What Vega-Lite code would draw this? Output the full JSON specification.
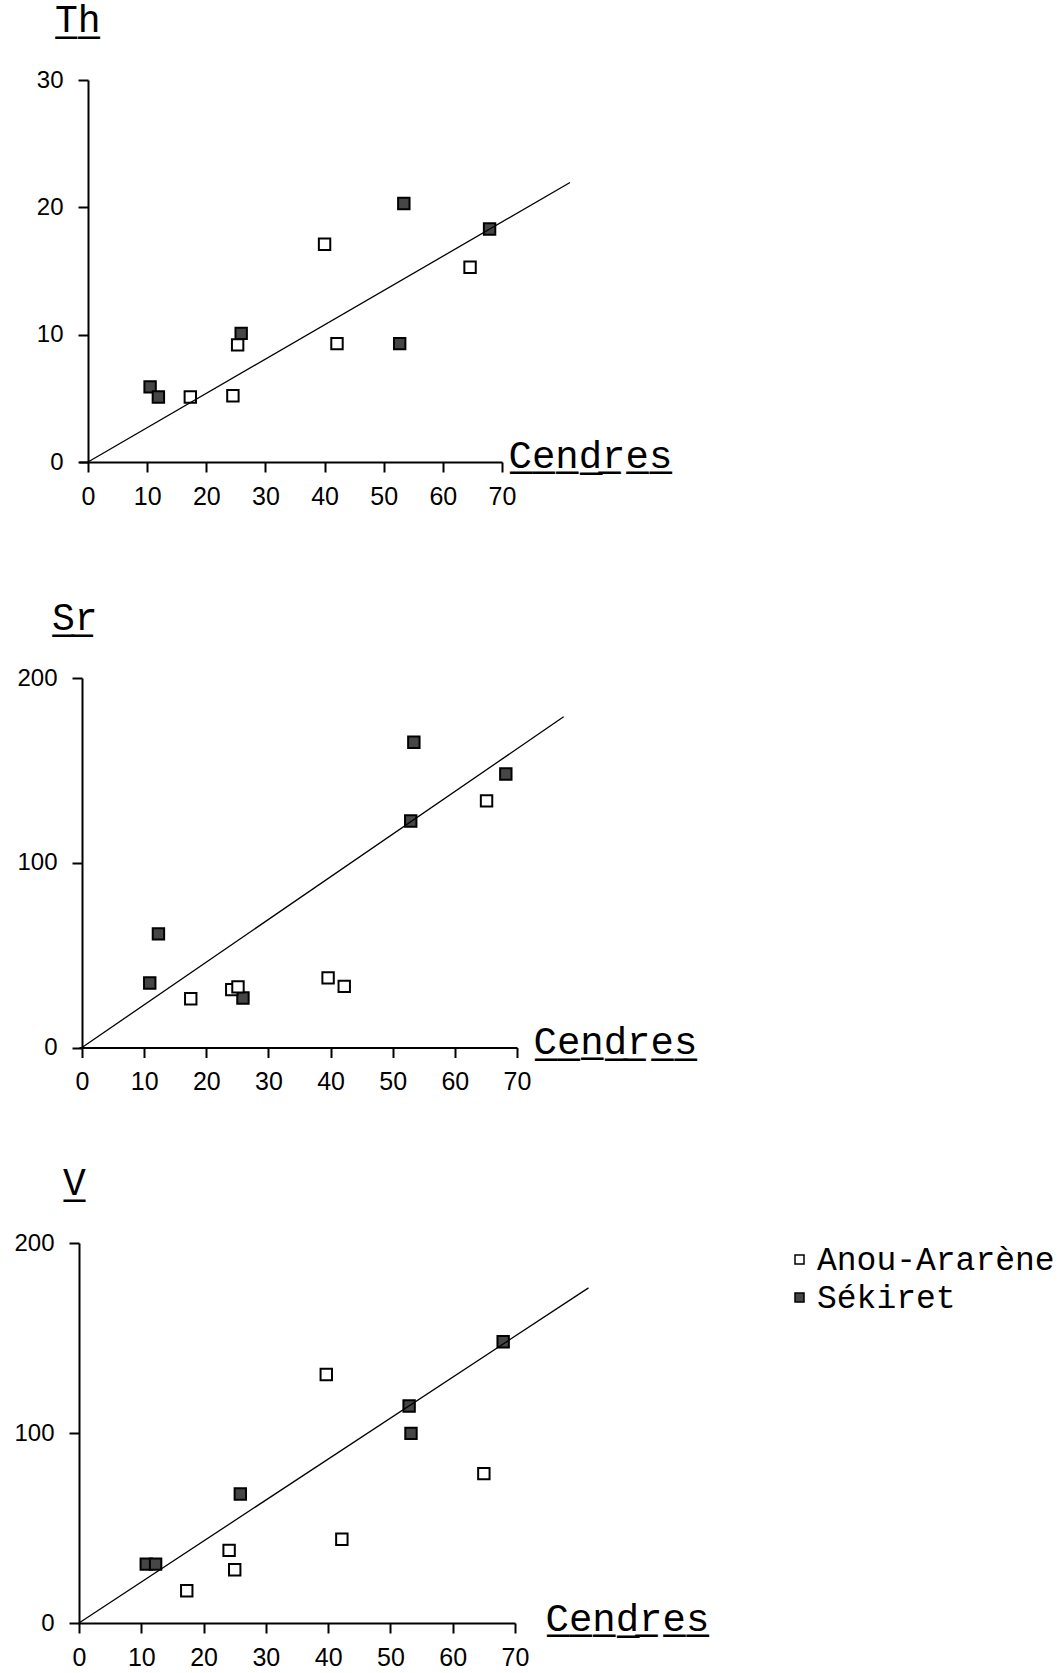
{
  "$schema": "https://vega.github.io/schema/vega-lite/v6.json",
  "padding": {"left": 0, "top": 2, "right": 0, "bottom": 0},
  "background": "white",
  "datasets": {
    "points": [
      {"panel": "Th", "site": "Sékiret", "cendres": 10.5, "value": 5.9},
      {"panel": "Th", "site": "Sékiret", "cendres": 11.9, "value": 5.1},
      {"panel": "Th", "site": "Sékiret", "cendres": 25.9, "value": 10.1},
      {"panel": "Th", "site": "Sékiret", "cendres": 53.4, "value": 20.3},
      {"panel": "Th", "site": "Sékiret", "cendres": 52.7, "value": 9.3},
      {"panel": "Th", "site": "Sékiret", "cendres": 67.9, "value": 18.3},
      {"panel": "Th", "site": "Anou-Ararène", "cendres": 17.3, "value": 5.1},
      {"panel": "Th", "site": "Anou-Ararène", "cendres": 24.5, "value": 5.2},
      {"panel": "Th", "site": "Anou-Ararène", "cendres": 25.3, "value": 9.2},
      {"panel": "Th", "site": "Anou-Ararène", "cendres": 40.0, "value": 17.1},
      {"panel": "Th", "site": "Anou-Ararène", "cendres": 42.1, "value": 9.3},
      {"panel": "Th", "site": "Anou-Ararène", "cendres": 64.6, "value": 15.3},
      {"panel": "Sr", "site": "Sékiret", "cendres": 12.3, "value": 61.5},
      {"panel": "Sr", "site": "Sékiret", "cendres": 10.9, "value": 34.9},
      {"panel": "Sr", "site": "Sékiret", "cendres": 25.9, "value": 26.8},
      {"panel": "Sr", "site": "Sékiret", "cendres": 53.4, "value": 165.2},
      {"panel": "Sr", "site": "Sékiret", "cendres": 52.9, "value": 122.6},
      {"panel": "Sr", "site": "Sékiret", "cendres": 68.2, "value": 148},
      {"panel": "Sr", "site": "Anou-Ararène", "cendres": 17.5, "value": 26.4},
      {"panel": "Sr", "site": "Anou-Ararène", "cendres": 24.1, "value": 31.3},
      {"panel": "Sr", "site": "Anou-Ararène", "cendres": 25.1, "value": 32.8},
      {"panel": "Sr", "site": "Anou-Ararène", "cendres": 39.6, "value": 37.7},
      {"panel": "Sr", "site": "Anou-Ararène", "cendres": 42.2, "value": 33.1},
      {"panel": "Sr", "site": "Anou-Ararène", "cendres": 65.1, "value": 133.5},
      {"panel": "V", "site": "Sékiret", "cendres": 10.8, "value": 31},
      {"panel": "V", "site": "Sékiret", "cendres": 12.3, "value": 31},
      {"panel": "V", "site": "Sékiret", "cendres": 25.9, "value": 67.9},
      {"panel": "V", "site": "Sékiret", "cendres": 53.0, "value": 114.2},
      {"panel": "V", "site": "Sékiret", "cendres": 53.3, "value": 99.8},
      {"panel": "V", "site": "Sékiret", "cendres": 68.1, "value": 148},
      {"panel": "V", "site": "Anou-Ararène", "cendres": 17.3, "value": 17.0},
      {"panel": "V", "site": "Anou-Ararène", "cendres": 24.1, "value": 38.2},
      {"panel": "V", "site": "Anou-Ararène", "cendres": 25.0, "value": 28.0},
      {"panel": "V", "site": "Anou-Ararène", "cendres": 39.7, "value": 130.8},
      {"panel": "V", "site": "Anou-Ararène", "cendres": 42.2, "value": 44.1},
      {"panel": "V", "site": "Anou-Ararène", "cendres": 65.0, "value": 78.6}
    ],
    "lines": [
      {"panel": "Th", "cendres": 0, "value": 0},
      {"panel": "Th", "cendres": 81.5, "value": 21.95},
      {"panel": "Sr", "cendres": 0, "value": 0},
      {"panel": "Sr", "cendres": 77.5, "value": 179},
      {"panel": "V", "cendres": 0, "value": 0},
      {"panel": "V", "cendres": 81.8, "value": 176.4}
    ]
  },
  "concat": [
    {
      "width": 423,
      "height": 382,
      "title": {"text": "T\u0332h\u0332", "anchor": "start", "frame": "group", "dx": -24, "offset": -2, "baseline": "alphabetic", "font": "Liberation Mono", "fontSize": 38, "fontWeight": "normal", "color": "black"},
      "layer": [
        {
          "data": {"name": "points"},
          "transform": [{"filter": "datum.panel === 'Th'"}],
          "mark": {"type": "point", "shape": "square", "filled": true, "size": 130, "stroke": "black", "strokeWidth": 2, "opacity": 1},
          "encoding": {
            "x": {"field": "cendres", "type": "quantitative", "scale": {"domain": [-1.522, 70], "nice": false, "zero": false},
                  "axis": {"values": [0, 10, 20, 30, 40, 50, 60, 70], "minExtent": 138, "title": "C\u0332e\u0332n\u0332d\u0332r\u0332e\u0332s\u0332", "titleX": 429, "titleY": 5}},
            "y": {"field": "value", "type": "quantitative", "scale": {"domain": [0, 30], "nice": false},
                  "axis": {"values": [0, 10, 20, 30], "offset": -9, "minExtent": 88, "title": null}},
            "fill": {"field": "site", "type": "nominal", "scale": {"domain": ["Anou-Ararène", "Sékiret"], "range": ["white", "#464646"]}, "legend": {"title": null}}
          }
        },
        {
          "data": {"name": "lines"},
          "transform": [{"filter": "datum.panel === 'Th'"}],
          "mark": {"type": "line", "color": "black", "strokeWidth": 1.3},
          "encoding": {
            "x": {"field": "cendres", "type": "quantitative"},
            "y": {"field": "value", "type": "quantitative"}
          }
        }
      ]
    },
    {
      "width": 438,
      "height": 369.5,
      "title": {"text": "S\u0332r\u0332", "anchor": "start", "frame": "group", "dx": -27, "offset": -2, "baseline": "alphabetic", "font": "Liberation Mono", "fontSize": 38, "fontWeight": "normal", "color": "black"},
      "layer": [
        {
          "data": {"name": "points"},
          "transform": [{"filter": "datum.panel === 'Sr'"}],
          "mark": {"type": "point", "shape": "square", "filled": true, "size": 130, "stroke": "black", "strokeWidth": 2, "opacity": 1},
          "encoding": {
            "x": {"field": "cendres", "type": "quantitative", "scale": {"domain": [-0.483, 70], "nice": false, "zero": false},
                  "axis": {"values": [0, 10, 20, 30, 40, 50, 60, 70], "minExtent": 117.5, "title": "C\u0332e\u0332n\u0332d\u0332r\u0332e\u0332s\u0332", "titleX": 454, "titleY": 6}},
            "y": {"field": "value", "type": "quantitative", "scale": {"domain": [0, 200], "nice": false},
                  "axis": {"values": [0, 100, 200], "offset": -3, "minExtent": 82, "title": null}},
            "fill": {"field": "site", "type": "nominal", "scale": {"domain": ["Anou-Ararène", "Sékiret"], "range": ["white", "#464646"]}, "legend": {"title": null}}
          }
        },
        {
          "data": {"name": "lines"},
          "transform": [{"filter": "datum.panel === 'Sr'"}],
          "mark": {"type": "line", "color": "black", "strokeWidth": 1.3},
          "encoding": {
            "x": {"field": "cendres", "type": "quantitative"},
            "y": {"field": "value", "type": "quantitative"}
          }
        }
      ]
    },
    {
      "width": 436,
      "height": 380,
      "title": {"text": "V\u0332", "anchor": "start", "frame": "group", "dx": -16, "offset": -2, "baseline": "alphabetic", "font": "Liberation Mono", "fontSize": 38, "fontWeight": "normal", "color": "black"},
      "layer": [
        {
          "data": {"name": "points"},
          "transform": [{"filter": "datum.panel === 'V'"}],
          "mark": {"type": "point", "shape": "square", "filled": true, "size": 130, "stroke": "black", "strokeWidth": 2, "opacity": 1},
          "encoding": {
            "x": {"field": "cendres", "type": "quantitative", "scale": {"domain": [0, 70], "nice": false},
                  "axis": {"values": [0, 10, 20, 30, 40, 50, 60, 70], "title": "C\u0332e\u0332n\u0332d\u0332r\u0332e\u0332s\u0332", "titleX": 466, "titleY": 7}},
            "y": {"field": "value", "type": "quantitative", "scale": {"domain": [0, 200], "nice": false},
                  "axis": {"values": [0, 100, 200], "minExtent": 79, "title": null}},
            "fill": {"field": "site", "type": "nominal", "scale": {"domain": ["Anou-Ararène", "Sékiret"], "range": ["white", "#464646"]}, "legend": {"title": null}}
          }
        },
        {
          "data": {"name": "lines"},
          "transform": [{"filter": "datum.panel === 'V'"}],
          "mark": {"type": "line", "color": "black", "strokeWidth": 1.3},
          "encoding": {
            "x": {"field": "cendres", "type": "quantitative"},
            "y": {"field": "value", "type": "quantitative"}
          }
        }
      ]
    }
  ],
  "columns": 1,
  "spacing": 0,
  "bounds": "full",
  "resolve": {
    "scale": {"x": "independent", "y": "independent", "fill": "shared"},
    "axis": {"x": "independent", "y": "independent"},
    "legend": {"fill": "shared"}
  },
  "config": {
    "view": {"stroke": null},
    "axis": {
      "grid": false,
      "domainColor": "black",
      "domainWidth": 2,
      "tickColor": "black",
      "tickWidth": 2,
      "tickSize": 10,
      "labelFont": "Liberation Sans",
      "labelColor": "black",
      "titleFont": "Liberation Mono",
      "titleFontSize": 39,
      "titleFontWeight": "normal",
      "titleColor": "black",
      "titleAlign": "left",
      "titleBaseline": "alphabetic",
      "titleAngle": 0,
      "titleAnchor": null
    },
    "axisX": {"labelFontSize": 25, "labelPadding": 12, "labelFlush": false, "labelOverlap": false},
    "axisY": {"labelFontSize": 24, "labelPadding": 15, "labelFlush": false, "labelOverlap": false},
    "legend": {
      "orient": "none",
      "legendX": 704,
      "legendY": 1163,
      "padding": 0,
      "symbolType": "square",
      "symbolSize": 81,
      "symbolStrokeColor": "black",
      "symbolStrokeWidth": 1.5,
      "labelFont": "Liberation Mono",
      "labelFontSize": 33,
      "labelColor": "black",
      "labelOffset": 1,
      "rowPadding": 4,
      "labelLimit": 400
    }
  }
}
